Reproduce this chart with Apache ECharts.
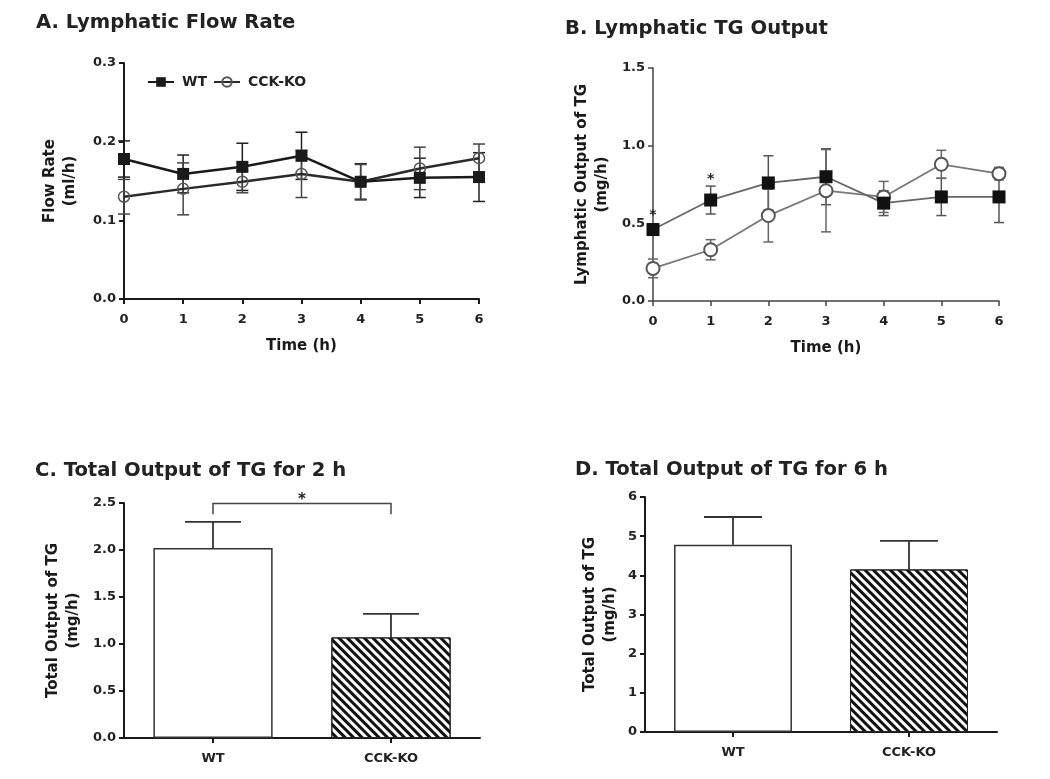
<!DOCTYPE html>
<html>
<head>
<meta charset="utf-8">
<script src="https://cdn.jsdelivr.net/npm/echarts@6/dist/echarts.min.js"></script>
<style>html,body{margin:0;padding:0;background:#fff;}#c{width:1050px;height:779px;}</style>
</head>
<body>
<div id="c"></div>
<script>
// ---- data ----
const hours = [0, 1, 2, 3, 4, 5, 6];
const flowWT = [0.178, 0.159, 0.168, 0.182, 0.149, 0.154, 0.155];
const flowWTErr = [0.023, 0.024, 0.030, 0.030, 0.023, 0.025, 0.031];
const flowKO = [0.130, 0.140, 0.149, 0.159, 0.149, 0.166, 0.179];
const flowKOErr = [0.022, 0.033, 0.014, 0.030, 0.022, 0.027, 0.018];
const tgWT = [0.46, 0.65, 0.76, 0.80, 0.63, 0.67, 0.67];
const tgWTErr = [0.035, 0.09, 0.175, 0.18, 0.08, 0.12, 0.165];
const tgKO = [0.21, 0.33, 0.55, 0.71, 0.67, 0.88, 0.82];
const tgKOErr = [0.06, 0.065, 0.17, 0.265, 0.10, 0.09, 0.04];
const sigStarsB = [[0, 0.55], [1, 0.78]];
const groups = ['WT', 'CCK-KO'];
const total2h = [2.02, 1.07];
const total2hErr = [0.28, 0.25];
const total6h = [4.78, 4.15];
const total6hErr = [0.71, 0.73];
const bracketC = [0, 2.38, 2.495, 1, 2.53]; // from idx, leg low, top, to idx, star level
const titles = ['A. Lymphatic Flow Rate', 'B. Lymphatic TG Output', 'C. Total Output of TG for 2 h', 'D. Total Output of TG for 6 h'];

// ---- styles ----
const FF = "'DejaVu Sans', sans-serif";
const DARK = '#1a1a1a';

function errorBars(half, color, width, upOnly) {
  return function (params, api) {
    const x = api.value(0), y = api.value(1), e = api.value(2);
    const top = api.coord([x, y + e]);
    const bot = api.coord([x, upOnly ? y : y - e]);
    const style = { stroke: color, lineWidth: width, fill: null };
    const children = [
      { type: 'line', shape: { x1: top[0], y1: top[1], x2: bot[0], y2: bot[1] }, style },
      { type: 'line', shape: { x1: top[0] - half, y1: top[1], x2: top[0] + half, y2: top[1] }, style }
    ];
    if (!upOnly) children.push({ type: 'line', shape: { x1: bot[0] - half, y1: bot[1], x2: bot[0] + half, y2: bot[1] }, style });
    return { type: 'group', children };
  };
}

function axisBase(color, width) {
  return {
    axisLine: { show: true, onZero: false, lineStyle: { color: color, width: width } },
    axisTick: { show: true, inside: false, length: 5, lineStyle: { color: color, width: width } },
    splitLine: { show: false },
    axisLabel: { color: '#222', fontFamily: FF, fontWeight: 'bold', fontSize: 13 },
    nameTextStyle: { color: '#1a1a1a', fontFamily: FF, fontWeight: 'bold', fontSize: 15, lineHeight: 20 }
  };
}

function timeAxis(gridIndex, color, width) {
  const b = axisBase(color, width);
  return Object.assign(b, {
    type: 'value', gridIndex, min: 0, max: 6, interval: 1,
    name: 'Time (h)', nameLocation: 'middle', nameGap: 37,
    axisLabel: Object.assign(b.axisLabel, { margin: 14 })
  });
}

function valAxis(gridIndex, color, width, max, interval, dec, name, gap) {
  const b = axisBase(color, width);
  return Object.assign(b, {
    type: 'value', gridIndex, min: 0, max, interval,
    name, nameLocation: 'middle', nameRotate: 90, nameGap: gap,
    axisLabel: Object.assign(b.axisLabel, { margin: 8, formatter: v => v.toFixed(dec) })
  });
}

function catAxis(gridIndex) {
  const b = axisBase(DARK, 2);
  return Object.assign(b, {
    type: 'category', gridIndex, data: groups,
    axisTick: { show: true, alignWithLabel: true, length: 5, lineStyle: { color: DARK, width: 2 } },
    axisLabel: Object.assign(b.axisLabel, { margin: 14 })
  });
}

const pair = (xs, ys, es) => xs.map((x, i) => es ? [x, ys[i], es[i]] : [x, ys[i]]);
const titleStyle = { fontFamily: FF, fontWeight: 'bold', fontSize: 19.6, color: '#222' };

const hatch = {
  symbol: 'rect', symbolSize: 1, dashArrayX: [1, 0], dashArrayY: [3, 3],
  rotation: Math.PI / 4, color: '#111'
};

const option = {
  animation: false,
  backgroundColor: '#fff',
  title: [
    { text: titles[0], left: 36, top: 13, padding: 0, textStyle: titleStyle },
    { text: titles[1], left: 565, top: 19, padding: 0, textStyle: titleStyle },
    { text: titles[2], left: 35, top: 461, padding: 0, textStyle: titleStyle },
    { text: titles[3], left: 575, top: 460, padding: 0, textStyle: titleStyle }
  ],
  legend: {
    data: ['WT', 'CCK-KO'], left: 142, top: 70, itemWidth: 26, itemHeight: 12, itemGap: 6,
    textStyle: { fontFamily: FF, fontWeight: 'bold', fontSize: 14, color: '#222', padding: [0, 0, 0, 3] },
    selectedMode: false
  },
  grid: [
    { left: 124, top: 63, width: 355, height: 236 },
    { left: 653, top: 68, width: 346, height: 233 },
    { left: 124, top: 503, width: 356, height: 235 },
    { left: 645, top: 497, width: 352, height: 235 }
  ],
  xAxis: [
    timeAxis(0, DARK, 2),
    timeAxis(1, '#444', 1.5),
    catAxis(2),
    catAxis(3)
  ],
  yAxis: [
    valAxis(0, DARK, 2, 0.3, 0.1, 1, 'Flow Rate\n(ml/h)', 44),
    valAxis(1, '#444', 1.5, 1.5, 0.5, 1, 'Lymphatic Output of TG\n(mg/h)', 41),
    valAxis(2, DARK, 2, 2.5, 0.5, 1, 'Total Output of TG\n(mg/h)', 41),
    valAxis(3, DARK, 2, 6, 1, 0, 'Total Output of TG\n(mg/h)', 25)
  ],
  series: [
    // Panel A
    { type: 'custom', xAxisIndex: 0, yAxisIndex: 0, silent: true, z: 2, encode: { x: 0, y: 1 },
      data: pair(hours, flowWT, flowWTErr), renderItem: errorBars(6, '#222', 1.5, false) },
    { type: 'custom', xAxisIndex: 0, yAxisIndex: 0, silent: true, z: 2, encode: { x: 0, y: 1 },
      data: pair(hours, flowKO, flowKOErr), renderItem: errorBars(6, '#444', 1.5, false) },
    { type: 'line', name: 'WT', xAxisIndex: 0, yAxisIndex: 0, data: pair(hours, flowWT), z: 4,
      symbol: 'rect', symbolSize: 12, clip: false,
      lineStyle: { color: DARK, width: 2.5 }, itemStyle: { color: DARK } },
    { type: 'line', name: 'CCK-KO', xAxisIndex: 0, yAxisIndex: 0, data: pair(hours, flowKO), z: 3,
      symbol: 'circle', symbolSize: 11, clip: false,
      lineStyle: { color: '#2a2a2a', width: 2.5 }, itemStyle: { color: 'rgba(255,255,255,0)', borderColor: '#555', borderWidth: 1.5 } },
    // Panel B
    { type: 'custom', xAxisIndex: 1, yAxisIndex: 1, silent: true, z: 2, encode: { x: 0, y: 1 },
      data: pair(hours, tgWT, tgWTErr), renderItem: errorBars(5, '#555', 1.5, false) },
    { type: 'custom', xAxisIndex: 1, yAxisIndex: 1, silent: true, z: 2, encode: { x: 0, y: 1 },
      data: pair(hours, tgKO, tgKOErr), renderItem: errorBars(5, '#666', 1.5, false) },
    { type: 'line', name: 'WT', xAxisIndex: 1, yAxisIndex: 1, data: pair(hours, tgWT), z: 4,
      symbol: 'rect', symbolSize: 13, clip: false,
      lineStyle: { color: '#666', width: 1.8 }, itemStyle: { color: '#111' } },
    { type: 'line', name: 'CCK-KO', xAxisIndex: 1, yAxisIndex: 1, data: pair(hours, tgKO), z: 3,
      symbol: 'circle', symbolSize: 13, clip: false,
      lineStyle: { color: '#777', width: 1.8 }, itemStyle: { color: '#fff', borderColor: '#555', borderWidth: 2 } },
    { type: 'custom', xAxisIndex: 1, yAxisIndex: 1, silent: true, z: 5, encode: { x: 0, y: 1 },
      data: sigStarsB,
      renderItem: function (params, api) {
        const p = api.coord([api.value(0), api.value(1)]);
        return { type: 'text', x: p[0], y: p[1],
          style: { text: '*', fontFamily: FF, fontWeight: 'bold', fontSize: 14, fill: '#222', align: 'center', verticalAlign: 'middle' } };
      } },
    // Panel C
    { type: 'bar', xAxisIndex: 2, yAxisIndex: 2, barWidth: '67%', z: 2,
      data: [
        { value: total2h[0], itemStyle: { color: '#fff', borderColor: '#333', borderWidth: 1.5 } },
        { value: total2h[1], itemStyle: { color: '#fff', borderColor: '#222', borderWidth: 1, decal: hatch } }
      ] },
    { type: 'custom', xAxisIndex: 2, yAxisIndex: 2, silent: true, z: 3, encode: { x: 0, y: 1 },
      data: groups.map((g, i) => [g, total2h[i], total2hErr[i]]), renderItem: errorBars(28, '#333', 1.8, true) },
    { type: 'custom', xAxisIndex: 2, yAxisIndex: 2, silent: true, z: 3, encode: { x: [0, 3], y: [1, 2] },
      data: [bracketC],
      renderItem: function (params, api) {
        const a0 = api.coord([api.value(0), api.value(1)]);
        const a1 = api.coord([api.value(0), api.value(2)]);
        const b1 = api.coord([api.value(3), api.value(2)]);
        const b0 = api.coord([api.value(3), api.value(1)]);
        const s = api.coord([api.value(0), api.value(4)]);
        return { type: 'group', children: [
          { type: 'polyline', shape: { points: [a0, a1, b1, b0] }, style: { stroke: '#444', lineWidth: 1.5, fill: null } },
          { type: 'text', x: (a1[0] + b1[0]) / 2, y: s[1],
            style: { text: '*', fontFamily: FF, fontWeight: 'bold', fontSize: 15, fill: '#222', align: 'center', verticalAlign: 'middle' } }
        ] };
      } },
    // Panel D
    { type: 'bar', xAxisIndex: 3, yAxisIndex: 3, barWidth: '67%', z: 2,
      data: [
        { value: total6h[0], itemStyle: { color: '#fff', borderColor: '#333', borderWidth: 1.5 } },
        { value: total6h[1], itemStyle: { color: '#fff', borderColor: '#222', borderWidth: 1, decal: hatch } }
      ] },
    { type: 'custom', xAxisIndex: 3, yAxisIndex: 3, silent: true, z: 3, encode: { x: 0, y: 1 },
      data: groups.map((g, i) => [g, total6h[i], total6hErr[i]]), renderItem: errorBars(29, '#333', 1.8, true) }
  ]
};

const chart = echarts.init(document.getElementById('c'), null, { renderer: 'canvas' });
chart.setOption(option);
</script>
</body>
</html>
